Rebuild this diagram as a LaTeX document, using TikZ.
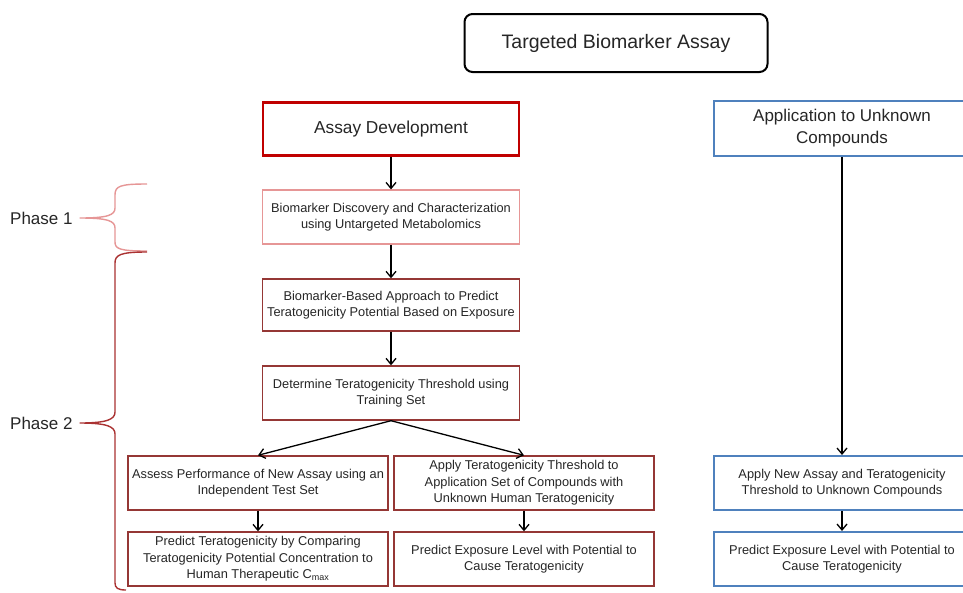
\documentclass[tikz,border=0pt]{standalone}
\usepackage{fontspec}
\setmainfont{Liberation Sans}
\usetikzlibrary{arrows.meta}
\definecolor{dkred}{RGB}{149,55,53}
\definecolor{brred}{RGB}{192,0,0}
\definecolor{ltred}{RGB}{230,150,150}
\definecolor{bluebd}{RGB}{79,129,189}
\definecolor{brace2}{RGB}{170,50,50}
\tikzset{
  box/.style={draw=dkred, line width=1.4pt, fill=white, align=center, inner sep=1pt, font=\fontsize{12.8}{16.5}\selectfont, text=black!85},
  bluebox/.style={draw=bluebd, line width=2pt, fill=white, align=center, inner sep=1pt, font=\fontsize{12.8}{16.5}\selectfont, text=black!85},
  arr/.style={draw=black, line width=1.3pt, -{Straight Barb[length=6pt,width=10pt]}},
  phase/.style={font=\fontsize{17}{20}\selectfont, text=black!85, anchor=west, inner sep=0pt}
}
\begin{document}
\begin{tikzpicture}[x=1pt,y=-1pt]
\clip (0,0) rectangle (963,592);
\fill[white] (0,0) rectangle (963,592);

% title
\node[draw=black, line width=2pt, rounded corners=8pt, minimum width=303pt, minimum height=58pt,
      font=\fontsize{19.5}{22}\selectfont, text=black!85] (title) at (616,43) {Targeted Biomarker Assay};

% left column
\node[draw=brred, line width=2.8pt, fill=white, minimum width=256pt, minimum height=53pt,
      font=\fontsize{17.3}{20}\selectfont, text=black!85] (dev) at (391,129) {Assay Development};
\node[box, draw=ltred, line width=1.2pt, minimum width=257pt, minimum height=54pt] (disc) at (391,217)
  {Biomarker Discovery and Characterization\\using Untargeted Metabolomics};
\node[box, minimum width=257pt, minimum height=52pt] (based) at (391,305)
  {Biomarker-Based Approach to Predict\\Teratogenicity Potential Based on Exposure};
\node[box, minimum width=257pt, minimum height=54pt] (thr) at (391,393)
  {Determine Teratogenicity Threshold using\\Training Set};
\node[box, minimum width=260pt, minimum height=54pt] (assess) at (258,483)
  {Assess Performance of New Assay using an\\Independent Test Set};
\node[box, minimum width=260pt, minimum height=54pt] (apply) at (524,483)
  {Apply Teratogenicity Threshold to\\Application Set of Compounds with\\Unknown Human Teratogenicity};
\node[box, minimum width=260pt, minimum height=54pt] (predT) at (258,559)
  {Predict Teratogenicity by Comparing\\Teratogenicity Potential Concentration to\\Human Therapeutic C\textsubscript{max}};
\node[box, minimum width=260pt, minimum height=54pt] (predE) at (524,559)
  {Predict Exposure Level with Potential to\\Cause Teratogenicity};

% right column
\node[draw=bluebd, line width=2pt, fill=white, minimum width=256pt, minimum height=55pt, align=center,
      font=\fontsize{17}{22}\selectfont, text=black!85] (appl) at (842,128.5) {Application to Unknown\\Compounds};
\node[bluebox, minimum width=256pt, minimum height=54pt] (newa) at (842,483)
  {Apply New Assay and Teratogenicity\\Threshold to Unknown Compounds};
\node[bluebox, minimum width=256pt, minimum height=54pt] (predR) at (842,559)
  {Predict Exposure Level with Potential to\\Cause Teratogenicity};

% arrows
\draw[arr] (dev) -- (disc);
\draw[arr] (disc) -- (based);
\draw[arr] (based) -- (thr);
\draw[arr] (thr.south) -- (assess.north);
\draw[arr] (thr.south) -- (apply.north);
\draw[arr] (assess) -- (predT);
\draw[arr] (apply) -- (predE);
\draw[arr] (appl) -- (newa);
\draw[arr] (newa) -- (predR);

% phase labels
\node[phase] (p1) at (10,218) {Phase 1};
\node[phase] (p2) at (10,423) {Phase 2};
\coordinate (b1) at (80,218);
\coordinate (b2) at (80,423);

% braces
\draw[ltred, line width=1.4pt, line join=round]
  (147,184) .. controls (120,184) and (115,186) .. (115,195) -- (115,208)
  .. controls (115,215) and (108,218) .. (b1)
  .. controls (108,218) and (115,221) .. (115,228) -- (115,242)
  .. controls (115,249) and (120,251) .. (147,251);
\draw[brace2, line width=1.4pt, line join=round]
  (147,252) .. controls (120,252) and (115,255) .. (115,263) -- (115,412)
  .. controls (115,419) and (108,423) .. (b2)
  .. controls (108,423) and (115,427) .. (115,434) -- (115,583)
  .. controls (115,588) and (118,590) .. (126,590);
\end{tikzpicture}
\end{document}
